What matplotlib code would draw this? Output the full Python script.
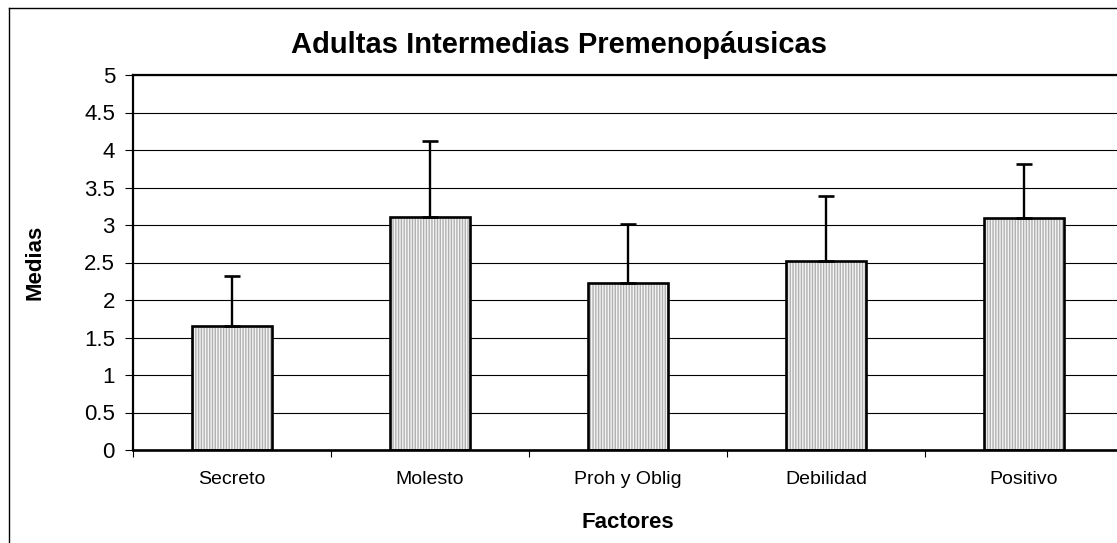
import matplotlib
matplotlib.use("Agg")
import matplotlib.pyplot as plt
from matplotlib.lines import Line2D
import numpy as np

plt.rcParams['font.family'] = ['Liberation Sans', 'DejaVu Sans']
plt.rcParams['hatch.linewidth'] = 1.0

# data
factores = ["Secreto", "Molesto", "Proh y Oblig", "Debilidad", "Positivo"]
medias = [1.66, 3.11, 2.23, 2.52, 3.10]
desv = [0.66, 1.01, 0.79, 0.87, 0.71]
yticks = [0, 0.5, 1, 1.5, 2, 2.5, 3, 3.5, 4, 4.5, 5]
ytick_labels = ["0", "0.5", "1", "1.5", "2", "2.5", "3", "3.5", "4", "4.5", "5"]

W, H = 1117, 543
fig = plt.figure(figsize=(W / 100, H / 100), dpi=100)

# outer chart border (right and bottom edge fall outside the picture)
fig.add_artist(Line2D([9 / W, 9 / W], [-0.1, 1 - 8 / H], transform=fig.transFigure,
                      color="black", lw=1.0))
fig.add_artist(Line2D([9 / W, 1.1], [1 - 8 / H, 1 - 8 / H], transform=fig.transFigure,
                      color="black", lw=1.0))

ax = fig.add_axes([133 / W, 93 / H, 990 / W, 375 / H])
x = np.arange(len(factores))

# striped fill, then black outline
ax.bar(x, medias, width=0.404, color="#f4f4f4", edgecolor="#b0b0b0", hatch="||||||",
       linewidth=0, zorder=2)
ax.bar(x, medias, width=0.404, fill=False, edgecolor="black", linewidth=1.9, zorder=3)
ax.errorbar(x, medias, yerr=[np.zeros(len(desv)), desv], fmt="none", ecolor="black",
            elinewidth=1.7, capsize=6, capthick=1.9, zorder=2.5)

ax.set_xlim(-0.5, len(factores) - 0.5)
ax.set_ylim(0, 5)
ax.set_yticks(yticks)
ax.set_yticklabels(ytick_labels, fontsize=16)
ax.set_xticks(x)
ax.set_xticklabels(factores, fontsize=14)
ax.set_xticks(np.arange(-0.5, len(factores), 1), minor=True)
ax.tick_params(axis="x", which="major", length=0, pad=15)
ax.tick_params(axis="x", which="minor", length=5, width=0.8, direction="out")
ax.tick_params(axis="y", length=6, width=0.8, direction="out", pad=7)

ax.set_axisbelow(True)
ax.yaxis.grid(True, color="black", linewidth=0.8)
for side in ["left", "top", "right"]:
    ax.spines[side].set_linewidth(1.6)
ax.spines["bottom"].set_linewidth(1.9)

fig.text(559 / W, 1 - 45 / H, "Adultas Intermedias Premenopáusicas", fontsize=21,
         fontweight="bold", ha="center", va="center")
fig.text(35 / W, 1 - 262 / H, "Medias", fontsize=16, fontweight="bold",
         ha="center", va="center", rotation=90)
fig.text(628 / W, 1 - 523 / H, "Factores", fontsize=16, fontweight="bold",
         ha="center", va="center")

fig.savefig("out.png", dpi=100)
